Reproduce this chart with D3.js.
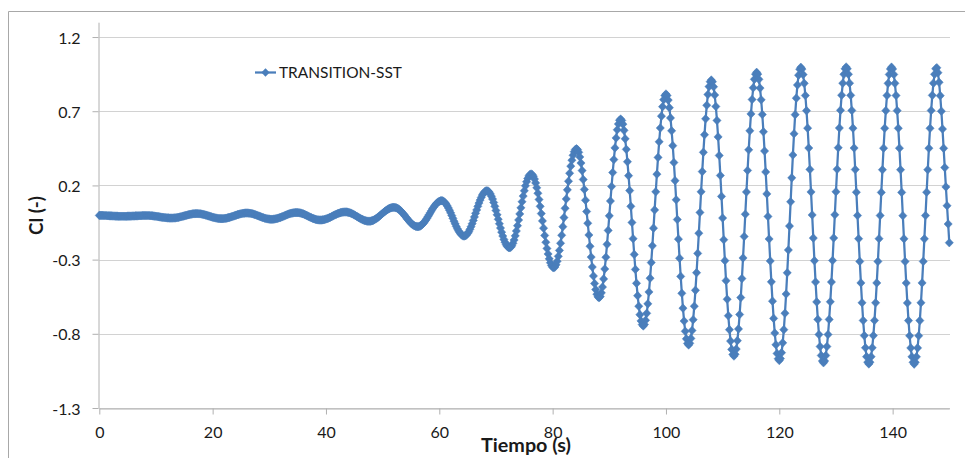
<!DOCTYPE html>
<html><head><meta charset="utf-8">
<script src="https://cdn.jsdelivr.net/npm/d3@7"></script>
<style>body{margin:0;background:#fff} svg{display:block}</style>
</head><body><svg id="c" width="965" height="458"></svg>
<script>
const seriesName = "TRANSITION-SST";
const xTitle = "Tiempo (s)";
const yTitle = "Cl (-)";
const timeStep = 0.2; // s between samples, t = 0 ... 150
const xTicks = [0, 20, 40, 60, 80, 100, 120, 140];
const yTicks = [-1.3, -0.8, -0.3, 0.2, 0.7, 1.2];

// Cl, t = 0.0 ... 47.4 s
const clEarly = [
-0.002,-0.002,-0.002,-0.002,-0.003,-0.003,-0.003,-0.004,-0.004,-0.005,-0.005,-0.005,-0.006,-0.006,-0.007,-0.007,-0.007,-0.008,-0.008,-0.008,
-0.008,-0.008,-0.008,-0.008,-0.008,-0.007,-0.007,-0.007,-0.007,-0.006,-0.006,-0.006,-0.005,-0.005,-0.005,-0.004,-0.004,-0.004,-0.003,-0.003,-0.003,-0.003,
-0.003,-0.003,-0.003,-0.004,-0.004,-0.005,-0.006,-0.007,-0.008,-0.009,-0.010,-0.012,-0.013,-0.014,-0.015,-0.016,-0.017,-0.018,-0.019,-0.019,-0.020,-0.020,
-0.020,-0.020,-0.019,-0.019,-0.018,-0.016,-0.015,-0.013,-0.011,-0.009,-0.007,-0.005,-0.003,-0.001,0.001,0.003,0.005,0.006,0.008,0.009,0.009,0.010,
0.010,0.010,0.009,0.009,0.007,0.006,0.004,0.002,0.000,-0.002,-0.005,-0.007,-0.009,-0.012,-0.014,-0.016,-0.018,-0.020,-0.021,-0.023,-0.023,-0.024,
-0.024,-0.024,-0.023,-0.022,-0.021,-0.019,-0.017,-0.015,-0.013,-0.010,-0.008,-0.005,-0.002,0.000,0.003,0.005,0.007,0.009,0.011,0.012,0.013,0.014,
0.014,0.014,0.013,0.012,0.011,0.009,0.007,0.004,0.002,-0.001,-0.004,-0.007,-0.010,-0.013,-0.016,-0.018,-0.021,-0.023,-0.025,-0.026,-0.027,-0.028,
-0.028,-0.028,-0.027,-0.026,-0.024,-0.023,-0.020,-0.018,-0.015,-0.012,-0.009,-0.006,-0.002,0.001,0.004,0.007,0.009,0.012,0.013,0.015,0.016,0.017,
0.017,0.017,0.016,0.015,0.013,0.010,0.008,0.005,0.001,-0.002,-0.006,-0.010,-0.014,-0.017,-0.021,-0.024,-0.026,-0.029,-0.031,-0.032,-0.033,
-0.033,-0.033,-0.032,-0.031,-0.029,-0.026,-0.024,-0.021,-0.017,-0.014,-0.010,-0.006,-0.002,0.002,0.005,0.009,0.012,0.014,0.017,0.019,0.020,0.021,
0.021,0.021,0.020,0.018,0.016,0.013,0.009,0.006,0.001,-0.003,-0.008,-0.012,-0.017,-0.021,-0.026,-0.029,-0.033,-0.036,-0.038,-0.040,-0.041
];

// Cl, t = 47.6 ... 91.8 s
const clGrowth = [
-0.041,-0.041,-0.039,-0.037,-0.034,-0.030,-0.025,-0.020,-0.014,-0.008,-0.001,0.006,0.012,0.019,0.025,0.031,0.036,0.041,0.045,0.048,0.050,0.052,
0.052,0.051,0.049,0.046,0.041,0.035,0.028,0.020,0.011,0.002,-0.008,-0.018,-0.028,-0.037,-0.046,-0.054,-0.061,-0.067,-0.072,-0.075,-0.077,
-0.078,-0.077,-0.074,-0.069,-0.063,-0.055,-0.045,-0.034,-0.023,-0.010,0.003,0.016,0.029,0.042,0.053,0.064,0.074,0.082,0.088,0.093,0.096,
0.097,0.096,0.091,0.084,0.074,0.062,0.048,0.032,0.015,-0.003,-0.022,-0.041,-0.059,-0.076,-0.092,-0.106,-0.118,-0.128,-0.135,-0.140,
-0.141,-0.139,-0.134,-0.124,-0.112,-0.096,-0.078,-0.058,-0.036,-0.012,0.012,0.035,0.059,0.081,0.101,0.119,0.135,0.147,0.157,0.162,
0.164,0.162,0.155,0.143,0.127,0.108,0.085,0.059,0.031,0.002,-0.028,-0.058,-0.087,-0.115,-0.141,-0.164,-0.183,-0.199,-0.211,-0.218,
-0.220,-0.217,-0.207,-0.190,-0.168,-0.140,-0.107,-0.071,-0.033,0.008,0.049,0.090,0.128,0.164,0.197,0.225,0.247,0.264,0.274,
0.277,0.273,0.262,0.243,0.217,0.184,0.147,0.105,0.059,0.010,-0.039,-0.088,-0.137,-0.183,-0.225,-0.262,-0.295,-0.321,-0.340,-0.351,
-0.355,-0.350,-0.335,-0.311,-0.278,-0.238,-0.190,-0.136,-0.078,-0.017,0.046,0.109,0.170,0.228,0.282,0.330,0.370,0.403,0.427,0.442,
0.447,0.441,0.423,0.392,0.351,0.300,0.240,0.173,0.100,0.024,-0.055,-0.134,-0.210,-0.283,-0.350,-0.410,-0.461,-0.502,-0.533,-0.551,
-0.557,-0.549,-0.524,-0.485,-0.430,-0.363,-0.284,-0.197,-0.103,-0.005,0.095,0.193,0.287,0.374,0.453,0.520,0.575,0.614,0.639
];

// Cl, t = 92.0 ... 150.0 s
const clLate = [
0.647,0.638,0.613,0.571,0.514,0.443,0.360,0.266,0.165,0.059,-0.050,-0.159,-0.265,-0.366,-0.460,-0.543,-0.614,-0.671,-0.713,-0.738,
-0.747,-0.737,-0.709,-0.662,-0.598,-0.518,-0.425,-0.320,-0.207,-0.088,0.035,0.157,0.276,0.389,0.494,0.587,0.667,0.731,0.778,0.806,
0.816,0.806,0.775,0.724,0.655,0.568,0.468,0.354,0.232,0.103,-0.030,-0.162,-0.291,-0.413,-0.527,-0.627,-0.714,-0.783,-0.834,-0.865,
-0.875,-0.864,-0.831,-0.778,-0.705,-0.614,-0.507,-0.388,-0.258,-0.122,0.018,0.157,0.293,0.423,0.542,0.649,0.740,0.813,0.866,0.899,
0.910,0.899,0.865,0.809,0.732,0.638,0.527,0.402,0.267,0.126,-0.020,-0.166,-0.307,-0.442,-0.567,-0.678,-0.772,-0.849,-0.905,-0.939,
-0.950,-0.938,-0.903,-0.846,-0.767,-0.670,-0.556,-0.428,-0.289,-0.144,0.006,0.156,0.301,0.440,0.568,0.682,0.779,0.858,0.915,0.950,
0.962,0.950,0.915,0.856,0.777,0.678,0.562,0.432,0.291,0.143,-0.009,-0.161,-0.309,-0.450,-0.580,-0.696,-0.795,-0.874,-0.933,-0.968,
-0.980,-0.967,-0.927,-0.861,-0.772,-0.661,-0.532,-0.389,-0.235,-0.074,0.090,0.251,0.405,0.548,0.677,0.788,0.877,0.943,0.983,
0.996,0.984,0.947,0.888,0.806,0.704,0.586,0.452,0.308,0.156,0.001,-0.155,-0.307,-0.451,-0.585,-0.703,-0.805,-0.886,-0.946,-0.983,
-0.995,-0.983,-0.946,-0.886,-0.805,-0.703,-0.584,-0.451,-0.306,-0.154,0.002,0.157,0.309,0.454,0.587,0.706,0.808,0.889,0.949,0.986,
0.998,0.986,0.949,0.889,0.807,0.705,0.586,0.452,0.307,0.154,-0.003,-0.159,-0.312,-0.457,-0.591,-0.710,-0.812,-0.894,-0.954,-0.991,
-1.003,-0.991,-0.954,-0.894,-0.812,-0.710,-0.591,-0.457,-0.312,-0.159,-0.003,0.153,0.306,0.451,0.585,0.704,0.806,0.888,0.948,0.985,
0.997,0.985,0.948,0.888,0.806,0.704,0.585,0.451,0.306,0.153,-0.004,-0.160,-0.313,-0.458,-0.592,-0.711,-0.813,-0.895,-0.955,-0.992,
-1.004,-0.992,-0.955,-0.895,-0.813,-0.711,-0.591,-0.457,-0.312,-0.160,-0.003,0.154,0.306,0.451,0.585,0.705,0.807,0.889,0.949,0.986,
0.993,0.960,0.895,0.805,0.700,0.580,0.450,0.320,0.190,0.063,-0.060,-0.186
];

const cl = clEarly.concat(clGrowth, clLate);
const data = cl.map((v, i) => ({ t: +(i * timeStep).toFixed(1), v }));

const COLOR = "#4a7ebb";
const AXIS = "#b0b0b0";
const GRID = "#d2d2d2";
const FONT = "Lato, 'Open Sans', 'Liberation Sans', sans-serif";

const svg = d3.select("#c");
svg.append("rect").attr("width", 965).attr("height", 458).attr("fill", "#fff");
// chart frame (left & top edges visible)
svg.append("path").attr("d", "M8.5,458V11.5H965").attr("fill", "none")
  .attr("stroke", "#a8a8a8").attr("stroke-width", 1);

const x = d3.scaleLinear().domain([0, 150]).range([99.3, 949.3]);
const y = d3.scaleLinear().domain([-1.3, 1.3]).range([408, 22.2]);

// gridlines
svg.append("g").selectAll("line").data(yTicks).join("line")
  .attr("x1", x(0)).attr("x2", 950)
  .attr("y1", d => Math.round(y(d)) + 0.5).attr("y2", d => Math.round(y(d)) + 0.5)
  .attr("stroke", GRID).attr("stroke-width", 1);

// y axis
const gy = svg.append("g").attr("transform", `translate(${Math.round(x(0)) - 0.5},0)`)
  .call(d3.axisLeft(y).tickValues(yTicks).tickFormat(d => d.toFixed(1))
    .tickSize(6).tickSizeOuter(0).tickPadding(12));
// x axis
const gx = svg.append("g").attr("transform", `translate(0,${Math.round(y(-1.3)) + 0.5})`)
  .call(d3.axisBottom(x).tickValues(xTicks).tickFormat(d => String(d))
    .tickSize(6).tickSizeOuter(0).tickPadding(12));
[gx, gy].forEach(g => {
  g.select(".domain").attr("stroke", AXIS);
  g.selectAll(".tick line").attr("stroke", AXIS);
  g.selectAll(".tick text").attr("fill", "#1a1a1a")
    .style("font-family", FONT).style("font-size", "16px");
});
gy.selectAll(".tick text").attr("dy", "0.38em");

// series line + diamond markers
const line = d3.line().x(d => x(d.t)).y(d => y(d.v));
svg.append("path").datum(data).attr("d", line).attr("fill", "none")
  .attr("stroke", COLOR).attr("stroke-width", 2.25).attr("stroke-linejoin", "round");
const diamond = "M0,-4.3L4.1,0L0,4.3L-4.1,0Z";
svg.append("g").selectAll("path").data(data).join("path")
  .attr("d", diamond)
  .attr("transform", d => `translate(${x(d.t)},${y(d.v)})`)
  .attr("fill", COLOR).attr("stroke", COLOR).attr("stroke-width", 0.5);

function fit(sel, target) {
  const n = sel.node();
  const L = n.getComputedTextLength();
  const fs = parseFloat(sel.style("font-size"));
  if (L > 0) sel.style("font-size", (fs * target / L).toFixed(2) + "px");
}

// legend
const lg = svg.append("g");
lg.append("line").attr("x1", 255).attr("x2", 276).attr("y1", 72.5).attr("y2", 72.5)
  .attr("stroke", COLOR).attr("stroke-width", 2.25);
lg.append("path").attr("d", diamond).attr("transform", "translate(265.5,72.5)").attr("fill", COLOR);
const lt = lg.append("text").attr("x", 279).attr("y", 78.3).text(seriesName)
  .attr("fill", "#1a1a1a").style("font-family", FONT).style("font-size", "16px");
fit(lt, 123);

// axis titles
const xt = svg.append("text").attr("x", 526).attr("y", 452).attr("text-anchor", "middle")
  .text(xTitle).attr("fill", "#1a1a1a").style("font-family", FONT)
  .style("font-weight", "bold").style("font-size", "18px");
fit(xt, 90);
const yt = svg.append("text").attr("transform", "translate(43.3,215.5) rotate(-90)")
  .attr("text-anchor", "middle").text(yTitle).attr("fill", "#1a1a1a")
  .style("font-family", FONT).style("font-weight", "bold").style("font-size", "17px");
fit(yt, 39);
</script></body></html>
